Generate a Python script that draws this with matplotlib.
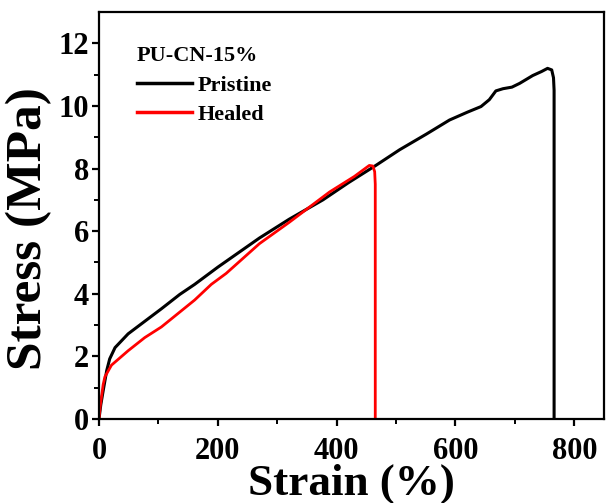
import matplotlib
matplotlib.use('Agg')
import matplotlib.pyplot as plt

plt.rcParams['font.family'] = ['Liberation Serif', 'DejaVu Serif']
plt.rcParams['font.weight'] = 'bold'

# stress-strain curves
pristine_strain = [0, 3, 7, 13, 18, 27, 49, 77, 105, 136, 161, 200, 270, 320, 377,
                   420, 466, 506, 551, 590, 620, 643, 657, 668, 680, 695, 708, 730,
                   745, 755, 762, 765, 766, 766]
pristine_stress = [0, 0.45, 0.9, 1.55, 1.92, 2.28, 2.72, 3.12, 3.52, 3.98, 4.3,
                   4.85, 5.78, 6.38, 7.0, 7.55, 8.1, 8.6, 9.1, 9.55, 9.8, 9.98,
                   10.2, 10.48, 10.55, 10.6, 10.72, 10.97, 11.1, 11.2, 11.15, 10.9, 10.5, 0]

healed_strain = [0, 2, 7, 10, 21, 49, 77, 105, 133, 161, 189, 214, 270, 320, 388,
                 430, 455, 461, 464, 465, 465]
healed_stress = [0, 0.4, 1.1, 1.35, 1.72, 2.18, 2.6, 2.94, 3.37, 3.8, 4.3, 4.65,
                 5.6, 6.28, 7.25, 7.75, 8.1, 8.08, 7.9, 7.5, 0]

fig = plt.figure(figsize=(6.06, 5.03), dpi=100)
ax = fig.add_axes([99 / 606, 84 / 503, 505 / 606, 407 / 503])

ax.plot(pristine_strain, pristine_stress, color='black', lw=2.2, label='Pristine')
ax.plot(healed_strain, healed_stress, color='#ff0000', lw=2.0, label='Healed')

ax.set_xlim(0, 850)
ax.set_ylim(0, 13)
ax.set_xticks([0, 200, 400, 600, 800])
ax.set_yticks([0, 2, 4, 6, 8, 10, 12])
ax.set_xticks(range(100, 800, 200), minor=True)
ax.set_yticks(range(1, 13, 2), minor=True)
ax.tick_params(which='major', direction='out', length=5, width=1.6, labelsize=22, pad=2)
ax.tick_params(axis='x', which='major', pad=8)
ax.tick_params(which='minor', direction='out', length=3.5, width=1.4)
for s in ax.spines.values():
    s.set_linewidth(1.6)

ax.set_xlabel('Strain (%)', fontsize=32.5, fontweight='bold', labelpad=-2)
ax.set_ylabel('Stress (MPa)', fontsize=37, fontweight='bold')
ax.yaxis.set_label_coords(-0.092, 0.469)

leg = ax.legend(loc='upper left', bbox_to_anchor=(0.075, 0.916), frameon=False,
                title='PU-CN-15%', prop={'size': 16, 'weight': 'bold'},
                title_fontproperties={'size': 16, 'weight': 'bold'},
                handlelength=2.5, handletextpad=0.25, labelspacing=0.4,
                borderpad=0, borderaxespad=0)
leg._legend_box.align = 'left'
for line in leg.get_lines():
    line.set_linewidth(2.5)

fig.savefig('out.png', dpi=100)
